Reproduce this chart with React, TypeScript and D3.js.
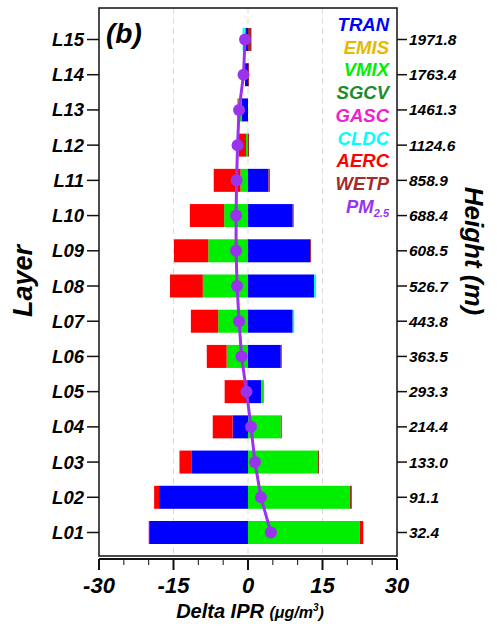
import * as d3 from 'd3'

// layers from bottom (L01) to top (L15)
const layers = ['L01', 'L02', 'L03', 'L04', 'L05', 'L06', 'L07', 'L08', 'L09', 'L10', 'L11', 'L12', 'L13', 'L14', 'L15']
const heights = ['32.4', '91.1', '133.0', '214.4', '293.3', '363.5', '443.8', '526.7', '608.5', '688.4', '858.9', '1124.6', '1461.3', '1763.4', '1971.8']

const keys = ['TRAN', 'EMIS', 'VMIX', 'SGCV', 'GASC', 'CLDC', 'AERC', 'WETP']
const colors = ['#0000ff', '#e6b800', '#00ee00', '#1e8c2e', '#ee22cc', '#00ffff', '#ff0000', '#a52a2a']

const tran = [-19.9, -17.9, -11.3, -3.1, 2.7, 6.6, 9.0, 13.3, 12.5, 9.0, 4.1, 0, -1.3, -0.6, -0.4]
const emis = [0, 0, 0, 0, 0, 0, 0, 0, 0, 0, 0, 0, 0, 0, 0]
const vmix = [22.5, 20.5, 14.0, 6.6, 0.5, -4.3, -6.0, -9.1, -8.0, -4.8, -1.5, -0.4, -0.6, 0, -0.3]
const sgcv = [0, 0, 0, 0, 0, 0, 0, 0, 0, 0, 0, 0, 0, 0, 0]
const gasc = [-0.1, 0, 0, 0, 0, 0, 0, 0, 0, 0, 0, 0, 0, 0, 0]
const cldc = [0, 0, 0, 0, 0, 0, 0.3, 0.4, 0, 0, 0, 0, 0, 0, -0.4]
const aerc = [0.7, -1.0, -2.5, -4.0, -4.7, -4.0, -5.5, -6.6, -6.9, -6.9, -5.4, -1.5, -0.2, 0, 0]
const wetp = [0, 0.4, 0.3, 0.2, 0, 0.2, 0, 0, 0.2, 0.2, 0.3, 0.2, 0, 0.2, 0.7]

const pm25 = [4.6, 2.6, 1.4, 0.6, -0.3, -1.3, -1.8, -2.2, -2.4, -2.4, -2.3, -2.1, -1.8, -0.9, -0.6]

const xTicks = [-30, -15, 0, 15, 30]
const xMinor = [-25, -20, -10, -5, 5, 10, 20, 25]

const font = '"Liberation Sans", Arial, sans-serif'

export default function App() {
  const W = 497
  const H = 629
  const left = 99
  const right = 397
  const top = 8
  const bottom = 556
  const axisY = 559
  const barH = 23

  const x = d3.scaleLinear().domain([-30, 30]).range([left, right])
  const y = d3.scalePoint().domain(layers).range([532.5, 39.5])

  const series = [tran, emis, vmix, sgcv, gasc, cldc, aerc, wetp]
  const table = layers.map((l, i) => {
    const row: any = { layer: l }
    keys.forEach((k, j) => (row[k] = series[j][i]))
    return row
  })
  const stacked = d3.stack().keys(keys).offset(d3.stackOffsetDiverging)(table)

  const line = d3
    .line<number>()
    .x((d) => x(d))
    .y((d, i) => y(layers[i]) as number)

  return (
    <svg width={W} height={H} style={{ position: 'absolute', left: 0, top: 0 }} fontFamily={font}>
      <rect width={W} height={H} fill="#fff" />
      {/* dashed grid */}
      {[-15, 0, 15].map((t) => (
        <line key={t} x1={x(t)} x2={x(t)} y1={top} y2={bottom} stroke="#dddddd" strokeWidth={1} strokeDasharray="6,4" />
      ))}
      {/* stacked bars */}
      {stacked.map((s, j) => (
        <g key={keys[j]} fill={colors[j]}>
          {s.map((d, i) => {
            const w = Math.abs(x(d[1]) - x(d[0]))
            if (w < 0.01) return null
            return (
              <rect
                key={i}
                x={Math.min(x(d[0]), x(d[1]))}
                y={(y(layers[i]) as number) - barH / 2}
                width={w}
                height={barH}
              />
            )
          })}
        </g>
      ))}
      {/* PM2.5 line */}
      <path d={line(pm25) || ''} fill="none" stroke="#9933ee" strokeWidth={3} />
      {pm25.map((v, i) => (
        <circle key={i} cx={x(v)} cy={y(layers[i]) as number} r={6} fill="#9933ee" />
      ))}
      {/* frame */}
      <rect x={left} y={top} width={right - left} height={bottom - top} fill="none" stroke="#111" strokeWidth={1.5} />
      {/* y ticks left & right */}
      {layers.map((l, i) => {
        const yy = y(l) as number
        return (
          <g key={l}>
            <line x1={left - 12} x2={left} y1={yy} y2={yy} stroke="#111" strokeWidth={1.5} />
            <text x={left - 15} y={yy + 6.5} textAnchor="end" fontSize={18.5} fontWeight="bold" fontStyle="italic">
              {l}
            </text>
            <line x1={right} x2={right + 10} y1={yy} y2={yy} stroke="#111" strokeWidth={1.5} />
            <text x={right + 12} y={yy + 5.5} fontSize={15.5} fontWeight="bold" fontStyle="italic">
              {heights[i]}
            </text>
          </g>
        )
      })}
      {/* x axis */}
      <line x1={left} x2={right} y1={axisY} y2={axisY} stroke="#111" strokeWidth={2} />
      {xTicks.map((t) => (
        <g key={t}>
          <line x1={x(t)} x2={x(t)} y1={axisY} y2={axisY + 11} stroke="#111" strokeWidth={2} />
          <text x={x(t)} y={593} textAnchor="middle" fontSize={22} fontWeight="bold" fontStyle="italic">
            {t}
          </text>
        </g>
      ))}
      {xMinor.map((t) => (
        <line key={t} x1={x(t)} x2={x(t)} y1={axisY} y2={axisY + 6} stroke="#111" strokeWidth={1} />
      ))}
      <text x={250} y={618} textAnchor="middle" fontWeight="bold" fontStyle="italic" fontSize={20}>
        Delta IPR <tspan fontSize={16}>(μg/m</tspan>
        <tspan fontSize={10} dy={-7}>3</tspan>
        <tspan fontSize={16} dy={7}>)</tspan>
      </text>
      {/* axis titles */}
      <text
        transform={`translate(32,281) rotate(-90)`}
        textAnchor="middle"
        fontSize={27}
        fontWeight="bold"
        fontStyle="italic"
      >
        Layer
      </text>
      <text
        transform={`translate(465,251) rotate(90)`}
        textAnchor="middle"
        fontSize={26}
        fontWeight="bold"
        fontStyle="italic"
      >
        Height (m)
      </text>
      <text x={106} y={43} fontSize={28} fontWeight="bold" fontStyle="italic">
        (b)
      </text>
      {/* legend */}
      {keys.map((k, j) => (
        <text key={k} x={389} y={31 + j * 22.7} textAnchor="end" fontSize={18.5} fontWeight="bold" fontStyle="italic" fill={colors[j]}>
          {k}
        </text>
      ))}
      <text x={389} y={31 + 8 * 22.7} textAnchor="end" fontSize={18.5} fontWeight="bold" fontStyle="italic" fill="#9933ee">
        PM<tspan fontSize={11} dy={4}>2.5</tspan>
      </text>
    </svg>
  )
}
